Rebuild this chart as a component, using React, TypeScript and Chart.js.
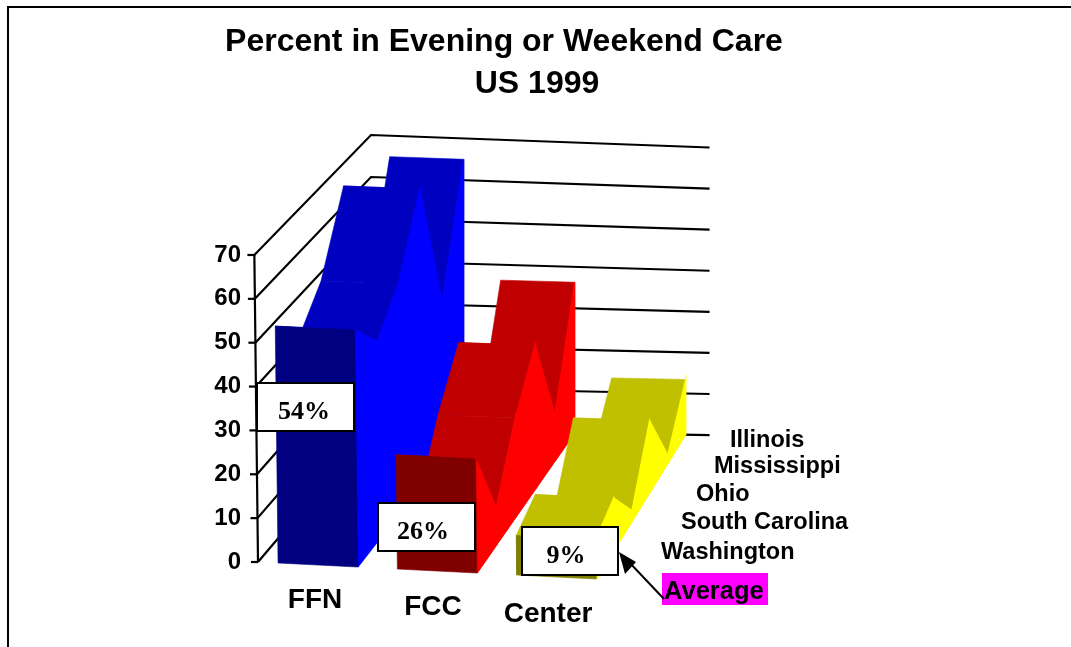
import React, { useEffect, useRef } from "react";
import { Chart, registerables } from "chart.js";

Chart.register(...registerables);

// ---- data -------------------------------------------------------------
const titleLines = ["Percent in Evening or Weekend Care", "US 1999"];
const careTypes = ["FFN", "FCC", "Center"];
const states = ["Average", "Washington", "South Carolina", "Ohio", "Mississippi", "Illinois"];
const ffnValues = [54, 45.5, 53, 69.5, 37, 65];
const fccValues = [26, 8.6, 23, 33.8, 11, 36.3];
const centerValues = [9, 12, 2.5, 17, 2, 13.4];
const calloutLabels = ["54%", "26%", "9%"];
const yTicks = [0, 10, 20, 30, 40, 50, 60, 70];

const seriesValues = [ffnValues, fccValues, centerValues];
const sideColors = ["#0000FF", "#FF0000", "#FFFF00"];
const topColors = ["#0000C0", "#C00000", "#C0C000"];
const frontColors = ["#000080", "#800000", "#808000"];

// ---- 3-D projection: category position u (0..3), depth d (0..1), value v
const lerp = (a: number, b: number, t: number) => a + (b - a) * t;
const Y_ZERO = 562;
const Y_UNIT = 4.386;
function project(u: number, d: number, v: number) {
  const t = u / 3;
  const px = lerp(lerp(258, 616, t), lerp(371, 704, t), d) - v * 0.052 * (1 - d);
  const floor = lerp(lerp(562, 580, t), lerp(429, 435, t), d);
  const unit = lerp(lerp(4.386, 4.4, t), lerp(4.2, 4.11, t), d);
  return { x: px, y: (Y_ZERO - (floor - v * unit)) / Y_UNIT };
}

type Pt = { x: number; y: number };
const polys: { pts: Pt[]; fill: string | null; line: string; width: number }[] = [];
const addPoly = (pts: Pt[], color: string, width = 0.6) =>
  polys.push({ pts: [...pts, pts[0]], fill: color, line: color, width });
const addLine = (pts: Pt[], w = 2.2) => polys.push({ pts, fill: null, line: "#000000", width: w });

// walls and axis
yTicks.forEach((v) => {
  addLine([project(0, 0, v), project(0, 1, v), project(3.05, 1, v)]);
  const a = project(0, 0, v);
  addLine([a, { x: a.x - 7, y: a.y }]);
});
addLine([project(0, 0, 0), project(0, 0, 70)]);

// ribbons
const U_L = 0.168;
const U_R = 0.835;
seriesValues.forEach((vals, k) => {
  const n = vals.length - 1;
  const uL = k + U_L;
  const uR = k + U_R;
  for (let i = n - 1; i >= 0; i--) {
    const d0 = i / n;
    const d1 = (i + 1) / n;
    addPoly([project(uL, d0, vals[i]), project(uR, d0, vals[i]), project(uR, d1, vals[i + 1]), project(uL, d1, vals[i + 1])], topColors[k]);
    addPoly([project(uR, d0, 0), project(uR, d1, 0), project(uR, d1, vals[i + 1]), project(uR, d0, vals[i])], sideColors[k], 1.4);
  }
  addPoly([project(uL, 0, 0), project(uR, 0, 0), project(uR, 0, vals[0]), project(uL, 0, vals[0])], frontColors[k]);
});

// ---- overlay (frame, texts, callouts)
const overlay = {
  id: "overlay",
  afterDraw(chart: any) {
    const c: CanvasRenderingContext2D = chart.ctx;
    c.save();
    // frame
    c.strokeStyle = "#000";
    c.lineWidth = 2;
    c.beginPath();
    c.moveTo(8, 647);
    c.lineTo(8, 7);
    c.lineTo(1071, 7);
    c.stroke();

    const text = (s: string, x: number, y: number, font: string, align: CanvasTextAlign = "left") => {
      c.font = font;
      c.textAlign = align;
      c.textBaseline = "alphabetic";
      c.fillStyle = "#000";
      c.fillText(s, x, y);
    };
    const sans = '"Liberation Sans", Arial, sans-serif';
    const serif = '"Liberation Serif", "Times New Roman", serif';

    // title
    text(titleLines[0], 504, 51, `bold 32px ${sans}`, "center");
    text(titleLines[1], 537, 93, `bold 32px ${sans}`, "center");

    // category labels
    const catPos = [[315, 608], [433, 615], [548, 622]];
    careTypes.forEach((s, i) => text(s, catPos[i][0], catPos[i][1], `bold 28px ${sans}`, "center"));

    // depth labels
    c.fillStyle = "#FF00FF";
    c.fillRect(662, 573, 106, 32);
    text(states[0], 664, 599, `bold 25.5px ${sans}`);
    const depthPos = [[661, 559], [681, 529], [696, 501], [714, 473], [730, 447]];
    depthPos.forEach((p, i) => text(states[i + 1], p[0], p[1], `bold 23.5px ${sans}`));

    // callouts
    const boxes = [[257, 383, 97, 48, 304, 419], [378, 503, 97, 48, 423, 539], [522, 527, 96, 48, 566, 563]];
    boxes.forEach((b, i) => {
      c.fillStyle = "#fff";
      c.fillRect(b[0], b[1], b[2], b[3]);
      c.strokeStyle = "#000";
      c.lineWidth = 2;
      c.strokeRect(b[0], b[1], b[2], b[3]);
      text(calloutLabels[i], b[4], b[5], `bold 26px ${serif}`, "center");
    });

    // arrow from the Average label to the callout
    c.strokeStyle = "#000";
    c.lineWidth = 2;
    c.beginPath();
    c.moveTo(664, 599);
    c.lineTo(628, 561);
    c.stroke();
    c.fillStyle = "#000";
    c.beginPath();
    c.moveTo(619, 552);
    c.lineTo(636, 562);
    c.lineTo(625, 574);
    c.closePath();
    c.fill();
    c.restore();
  },
};

export default function App() {
  const ref = useRef<HTMLCanvasElement>(null);
  useEffect(() => {
    const chart = new Chart(ref.current!, {
      type: "scatter",
      data: {
        datasets: polys.map((p, i) => ({
          data: p.pts,
          showLine: true,
          pointRadius: 0,
          tension: 0,
          fill: p.fill ? "shape" : false,
          backgroundColor: p.fill ?? "transparent",
          borderColor: p.line,
          borderWidth: p.width,
          order: -i,
          clip: false,
        })),
      } as any,
      plugins: [overlay],
      options: {
        responsive: false,
        animation: false,
        layout: { padding: 0 },
        events: [],
        plugins: { legend: { display: false }, tooltip: { enabled: false }, title: { display: false } },
        scales: {
          x: { type: "linear", display: false, min: 249, max: 1071 },
          y: {
            type: "linear",
            min: (Y_ZERO - 647) / Y_UNIT,
            max: Y_ZERO / Y_UNIT,
            grid: { display: false },
            border: { display: false },
            ticks: {
              stepSize: 10,
              padding: 0,
              color: "#000",
              font: { family: '"Liberation Sans", Arial, sans-serif', size: 24, weight: "bold" },
            },
            afterBuildTicks: (s: any) => {
              s.ticks = yTicks.map((value) => ({ value }));
            },
            afterFit: (s: any) => {
              s.width = 249;
              s.paddingTop = 0;
              s.paddingBottom = 0;
            },
          },
        },
      } as any,
    });
    return () => chart.destroy();
  }, []);
  return (
    <canvas
      ref={ref}
      width={1071}
      height={647}
      style={{ position: "absolute", left: 0, top: 0, display: "block", background: "#fff" }}
    />
  );
}
